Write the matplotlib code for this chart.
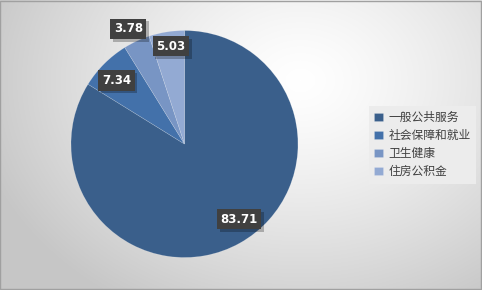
import numpy as np
import matplotlib
matplotlib.use("Agg")
import matplotlib.pyplot as plt
import matplotlib.patheffects as pe
from matplotlib.patches import Rectangle

plt.rcParams['font.family'] = ['Noto Sans CJK SC', 'DejaVu Sans']

categories = ['一般公共服务', '社会保障和就业', '卫生健康', '住房公积金']
values = [83.71, 7.34, 3.78, 5.03]
value_labels = ['83.71', '7.34', '3.78', '5.03']
colors = ['#3A5F8B', '#4371AA', '#7895C4', '#93AAD3']

fig = plt.figure(figsize=(4.82, 2.90), dpi=100)

# background radial gradient
bg = fig.add_axes([0, 0, 1, 1])
bg.set_axis_off()
yy, xx = np.mgrid[0:290, 0:482]
d = np.sqrt(((xx - 300) / 330.0) ** 2 + ((yy - 80) / 260.0) ** 2)
d = np.clip(d, 0, 1)
shade = 1.0 - 0.22 * d ** 1.3
img = np.dstack([shade, shade, shade])
bg.imshow(img, extent=[0, 1, 0, 1], aspect='auto', origin='upper')
bg.set_xlim(0, 1)
bg.set_ylim(0, 1)
bg.add_patch(Rectangle((0.001, 0.002), 0.997, 0.995, fill=False,
                       ec='#A0A0A0', lw=1.0, transform=bg.transAxes))

ax = fig.add_axes([0.1002, 0.0338, 0.5651, 0.9393])

wedges, _ = ax.pie(values, colors=colors, startangle=90, counterclock=False,
                   radius=1.0, center=(0, 0),
                   wedgeprops=dict(linewidth=0.4, edgecolor='#FFFFFF40'))
ax.set_xlim(-1.2, 1.2)
ax.set_ylim(-1.2, 1.2)
ax.set_aspect('equal')
ax.set_axis_off()

# label placement (radius factor, angle tweak) per slice
lab_r = [0.82, 0.82, 1.13, 0.87]
lab_da = [7, 2, 1, -1]
for w, txt, rr, da in zip(wedges, value_labels, lab_r, lab_da):
    ang = np.deg2rad((w.theta1 + w.theta2) / 2 + da)
    x, y = rr * np.cos(ang), rr * np.sin(ang)
    t = ax.text(x, y, txt, ha='center', va='center', fontsize=8.5,
                fontweight='bold', color='white', family='DejaVu Sans',
                bbox=dict(boxstyle='square,pad=0.3', fc='#404040', ec='none'))
    t.get_bbox_patch().set_path_effects(
        [pe.SimplePatchShadow(offset=(2, -2), shadow_rgbFace='black', alpha=0.25),
         pe.Normal()])

leg = fig.legend(wedges, categories, loc='upper left',
                 bbox_to_anchor=(369 / 482, 1 - 106 / 290),
                 frameon=True, fancybox=False, fontsize=8.5,
                 handlelength=0.7, handleheight=0.7, handletextpad=0.5,
                 labelspacing=0.42, borderpad=0.45, borderaxespad=0)
leg.get_frame().set_facecolor('#ECECEC')
leg.get_frame().set_edgecolor('none')
leg.get_frame().set_alpha(1)
for t in leg.get_texts():
    t.set_color('#404040')

fig.savefig('out.png', dpi=100)
